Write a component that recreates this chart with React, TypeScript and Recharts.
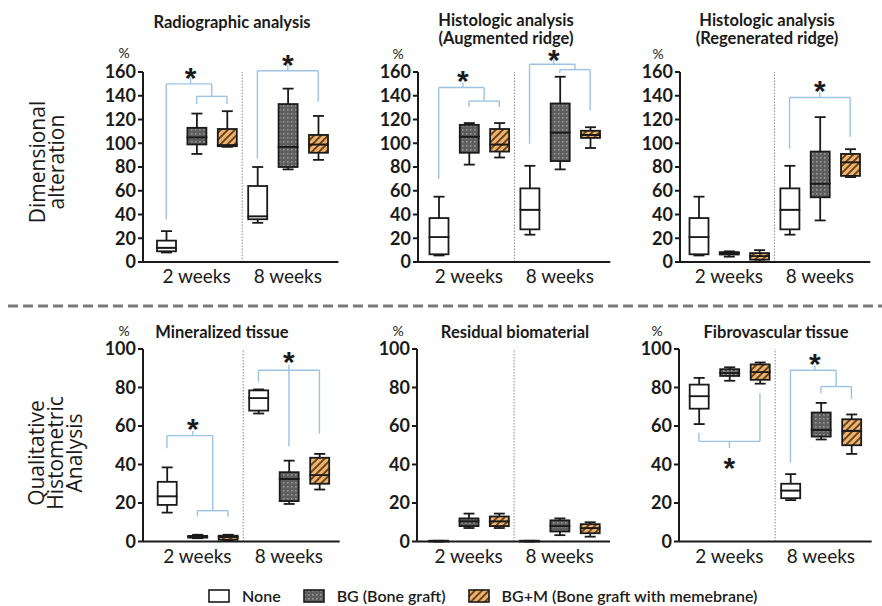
import React from 'react';
import { ComposedChart, Bar, XAxis, YAxis, ReferenceLine, ReferenceDot } from 'recharts';

const groups = ['None', 'BG', 'BGM'];
const weekLabels = ['2 weeks', '8 weeks'];
const ticks160 = [0, 20, 40, 60, 80, 100, 120, 140, 160];
const ticks100 = [0, 20, 40, 60, 80, 100];

// [min, q1, median, q3, max] for None, BG, BG+M at 2 weeks, then the same at 8 weeks
const radioBoxes = [
  [8, 9, 12, 18, 26], [91, 99, 105, 113, 125], [97, 97.5, 98.5, 112, 127],
  [33, 36, 38.5, 64, 80], [78, 80, 97, 133, 146], [86, 92, 99, 107, 123],
];
const augBoxes = [
  [5.5, 6.5, 21, 37, 55], [82, 92, 105.5, 115.5, 117], [88, 93, 99, 112, 117],
  [23, 27.5, 44, 62, 81], [78, 85, 109, 133.5, 156], [96, 104.5, 107, 110.5, 113.5],
];
const regenBoxes = [
  [5.5, 6.5, 21, 37, 55], [4.5, 6.3, 7.5, 8.3, 9], [0.5, 2, 5, 7.5, 10],
  [23, 27.5, 44, 62, 81], [35, 54.5, 66, 93, 122], [71.5, 72.5, 84, 91, 95],
];
const mineralBoxes = [
  [15, 19, 23.5, 31, 38.5], [1.7, 2, 2.4, 2.9, 3.5], [0.5, 0.9, 2.3, 3, 3.5],
  [66.5, 68, 74.5, 78.5, 79], [19.5, 21, 32.5, 36, 42], [27, 30, 34.5, 43.5, 45.5],
];
const residualBoxes = [
  [0, 0, 0.2, 0.4, 0.4], [7, 8, 10.5, 12, 14.5], [7, 8, 10.5, 13, 14.5],
  [0, 0, 0.2, 0.4, 0.4], [3.3, 5.2, 8, 11, 12], [2.5, 4.3, 7, 9, 10],
];
const fibroBoxes = [
  [61, 69, 75.5, 81.5, 85], [83.5, 86, 87.5, 89.5, 90.5], [82, 84, 88, 92, 93],
  [21.5, 22.5, 26.5, 30, 35], [53, 54.5, 58, 67, 72], [45.5, 50, 57.5, 63.5, 66],
];

// significance brackets as [x1, y1, x2, y2]; x counts box slots (box i sits at i + 0.5)
const radioLinks = [
  [0.5, 36, 0.5, 150], [0.5, 150, 2, 150], [1.3, 150, 1.3, 155], [2, 150, 2, 139.5],
  [1.5, 139.5, 2.5, 139.5], [1.5, 139.5, 1.5, 133], [2.5, 139.5, 2.5, 133],
  [3.5, 87, 3.5, 161], [3.5, 161, 5.5, 161], [4.5, 161, 4.5, 166], [5.5, 161, 5.5, 135],
];
const radioStars = [[1.3, 161], [4.5, 172]];

const augLinks = [
  [0.5, 70, 0.5, 147], [0.5, 147, 2, 147], [1.3, 147, 1.3, 151], [2, 147, 2, 135.5],
  [1.5, 135.5, 2.5, 135.5], [1.5, 135.5, 1.5, 130.5], [2.5, 135.5, 2.5, 130.5],
  [3.5, 99.5, 3.5, 166.5], [3.5, 166.5, 5, 166.5], [4.3, 166.5, 4.3, 170.5], [5, 166.5, 5, 162],
  [4.5, 162, 5.5, 162], [4.5, 162, 4.5, 159], [5.5, 162, 5.5, 127.5],
];
const augStars = [[1.3, 158], [4.3, 176]];

const regenLinks = [
  [3.5, 95.5, 3.5, 138.5], [3.5, 138.5, 5.5, 138.5], [4.5, 138.5, 4.5, 143], [5.5, 138.5, 5.5, 105.5],
];
const regenStars = [[4.5, 150]];

const mineralLinks = [
  [0.5, 48.5, 0.5, 55], [0.5, 55, 2, 55], [1.35, 55, 1.35, 57.5], [2, 55, 2, 16],
  [1.5, 16, 2.5, 16], [1.5, 16, 1.5, 13], [2.5, 16, 2.5, 13],
  [3.5, 83, 3.5, 89], [3.5, 89, 5.5, 89], [4.5, 92, 4.5, 49.5], [5.5, 89, 5.5, 56],
];
const mineralStars = [[1.35, 62], [4.5, 97]];

const fibroLinks = [
  [0.5, 56.5, 0.5, 52], [0.5, 52, 2.5, 52], [2.5, 52, 2.5, 77], [1.5, 52, 1.5, 48.5],
  [3.5, 41, 3.5, 89], [3.5, 89, 5, 89], [4.3, 89, 4.3, 91.5], [5, 89, 5, 80.5],
  [4.5, 80.5, 5.5, 80.5], [4.5, 80.5, 4.5, 77], [5.5, 80.5, 5.5, 74],
];
const fibroStars = [[1.5, 42], [4.3, 96]];

const ink = '#1a1a1a';
const linkBlue = '#9cc3e4';
const boxFill: Record<string, string> = { None: '#ffffff', BG: 'url(#dotFill)', BGM: 'url(#hatchFill)' };

const toRows = (boxes: number[][]) =>
  boxes.map(([min, q1, med, q3, max], i) => ({
    key: `b${i}`,
    slot: i,
    kind: groups[i % 3],
    lo: min,
    w1: q1 - min,
    b1: med - q1,
    b2: q3 - med,
    w2: max - q3,
  }));

const emptyShape = () => <g />;

const lowWhisker = (p: any) => {
  const cx = p.x + p.width / 2;
  const yb = p.y + p.height;
  return (
    <g>
      <line x1={cx} x2={cx} y1={p.y} y2={yb} stroke={ink} strokeWidth={1.8} />
      <line x1={cx - 5.5} x2={cx + 5.5} y1={yb} y2={yb} stroke={ink} strokeWidth={1.8} />
    </g>
  );
};

const highWhisker = (p: any) => {
  const cx = p.x + p.width / 2;
  return (
    <g>
      <line x1={cx} x2={cx} y1={p.y} y2={p.y + p.height} stroke={ink} strokeWidth={1.8} />
      <line x1={cx - 5.5} x2={cx + 5.5} y1={p.y} y2={p.y} stroke={ink} strokeWidth={1.8} />
    </g>
  );
};

const boxPart = (p: any) => (
  <rect
    x={p.x}
    y={p.y}
    width={p.width}
    height={Math.max(p.height, 0.01)}
    fill={boxFill[p.payload.kind]}
    stroke={ink}
    strokeWidth={1.8}
  />
);

const star = (p: any) => (
  <text x={p.cx} y={p.cy + 17} textAnchor="middle" fontSize={30} fontWeight={700} fontFamily="Liberation Sans" fill={ink}>
    *
  </text>
);

interface PanelProps {
  boxes: number[][];
  links?: number[][];
  stars?: number[][];
  yTicks: number[];
  axisX: number;
  plotTop: number;
  plotH: number;
  padL: number;
  band: number;
}

function Panel({ boxes, links = [], stars = [], yTicks, axisX, plotTop, plotH, padL, band }: PanelProps) {
  const rows = toRows(boxes);
  const plotW = padL + band * 6 + 5;
  const pad = { left: padL, right: 5 };
  const yMax = yTicks[yTicks.length - 1];
  return (
    <div style={{ position: 'absolute', left: axisX - 45, top: plotTop - 40 }}>
      <ComposedChart
        width={45 + plotW + 10}
        height={40 + plotH + 30}
        data={rows}
        barSize={19}
        margin={{ top: 40, right: 10, bottom: 0, left: 0 }}
      >
        <XAxis xAxisId="cat" dataKey="key" hide orientation="top" height={0} padding={pad} />
        <XAxis
          xAxisId="pos"
          dataKey="slot"
          type="number"
          domain={[0, 6]}
          allowDataOverflow
          ticks={[1.5, 4.5]}
          tickFormatter={(v: number) => weekLabels[v < 3 ? 0 : 1]}
          padding={pad}
          height={30}
          tickLine={false}
          axisLine={{ stroke: ink, strokeWidth: 2 }}
          tick={{ fill: ink, fontSize: 19, fontFamily: 'Lato' }}
        />
        <YAxis
          domain={[0, yMax]}
          ticks={yTicks}
          interval={0}
          width={45}
          tickSize={5}
          tickMargin={2}
          axisLine={{ stroke: ink, strokeWidth: 2 }}
          tickLine={{ stroke: ink, strokeWidth: 2 }}
          tick={{ fill: ink, fontSize: 18, fontWeight: 700, fontFamily: 'Lato' }}
        />
        <ReferenceLine xAxisId="pos" x={3} stroke="#8a8a8a" strokeDasharray="1.5 1.5" strokeWidth={1} />
        <Bar xAxisId="cat" dataKey="lo" stackId="box" shape={emptyShape} isAnimationActive={false} />
        <Bar xAxisId="cat" dataKey="w1" stackId="box" shape={lowWhisker} isAnimationActive={false} />
        <Bar xAxisId="cat" dataKey="b1" stackId="box" shape={boxPart} isAnimationActive={false} />
        <Bar xAxisId="cat" dataKey="b2" stackId="box" shape={boxPart} isAnimationActive={false} />
        <Bar xAxisId="cat" dataKey="w2" stackId="box" shape={highWhisker} isAnimationActive={false} />
        {links.map(([x1, y1, x2, y2], i) => (
          <ReferenceLine
            key={`l${i}`}
            xAxisId="pos"
            segment={[{ x: x1, y: y1 }, { x: x2, y: y2 }]}
            stroke={linkBlue}
            strokeWidth={1.4}
            ifOverflow="visible"
          />
        ))}
        {stars.map(([x, y], i) => (
          <ReferenceDot key={`s${i}`} xAxisId="pos" x={x} y={y} r={0} ifOverflow="visible" shape={star} />
        ))}
      </ComposedChart>
    </div>
  );
}

const textAt = (x: number, y: number, extra: React.CSSProperties = {}): React.CSSProperties => ({
  position: 'absolute',
  left: x,
  top: y,
  transform: 'translate(-50%, -50%)',
  whiteSpace: 'nowrap',
  textAlign: 'center',
  ...extra,
});

const titleStyle: React.CSSProperties = { fontWeight: 700, fontSize: 16.5, lineHeight: '18px', color: ink };
const pctStyle: React.CSSProperties = { fontSize: 14, lineHeight: '12px', color: ink };
const sideStyle: React.CSSProperties = { fontFamily: 'Open Sans', fontSize: 21, lineHeight: '19px', color: ink };

const Swatch = ({ fill }: { fill: string }) => (
  <svg width={22} height={14} style={{ display: 'block' }}>
    <rect x={1} y={1} width={20} height={12} fill={fill} stroke={ink} strokeWidth={1.6} />
  </svg>
);

export default function App() {
  return (
    <div style={{ position: 'absolute', left: 0, top: 0, width: 882, height: 606, background: '#fff', fontFamily: 'Lato', overflow: 'hidden' }}>
      <svg width={0} height={0} style={{ position: 'absolute' }}>
        <defs>
          <pattern id="dotFill" width={4} height={4} patternUnits="userSpaceOnUse">
            <rect width={4} height={4} fill="#5e5e5e" />
            <rect x={1.2} y={1.2} width={1.3} height={1.3} fill="#b4b4b4" />
          </pattern>
          <pattern id="hatchFill" width={5} height={5} patternUnits="userSpaceOnUse" patternTransform="rotate(45)">
            <rect width={5} height={5} fill="#f2b46c" />
            <rect width={2} height={5} fill="#6a4622" />
          </pattern>
        </defs>
      </svg>

      <div style={textAt(232, 22, titleStyle)}>Radiographic analysis</div>
      <div style={textAt(506, 29, titleStyle)}>Histologic analysis<br />(Augmented ridge)</div>
      <div style={textAt(767, 29, titleStyle)}>Histologic analysis<br />(Regenerated ridge)</div>
      <div style={textAt(222, 332, titleStyle)}>Mineralized tissue</div>
      <div style={textAt(515, 332, titleStyle)}>Residual biomaterial</div>
      <div style={textAt(776, 332, titleStyle)}>Fibrovascular tissue</div>

      <div style={textAt(124, 53, pctStyle)}>%</div>
      <div style={textAt(398, 54, pctStyle)}>%</div>
      <div style={textAt(658, 54, pctStyle)}>%</div>
      <div style={textAt(124, 331, pctStyle)}>%</div>
      <div style={textAt(398, 331, pctStyle)}>%</div>
      <div style={textAt(657, 331, pctStyle)}>%</div>

      <div style={textAt(47, 162, { ...sideStyle, transform: 'translate(-50%, -50%) rotate(-90deg)' })}>
        Dimensional<br />alteration
      </div>
      <div style={textAt(55, 453, { ...sideStyle, transform: 'translate(-50%, -50%) rotate(-90deg)' })}>
        Qualitative<br />Histometric<br />Analysis
      </div>

      <Panel boxes={radioBoxes} links={radioLinks} stars={radioStars} yTicks={ticks160} axisX={143} plotTop={72} plotH={190} padL={8} band={30.4} />
      <Panel boxes={augBoxes} links={augLinks} stars={augStars} yTicks={ticks160} axisX={418} plotTop={72} plotH={190} padL={5.5} band={30.3} />
      <Panel boxes={regenBoxes} links={regenLinks} stars={regenStars} yTicks={ticks160} axisX={680} plotTop={72} plotH={190} padL={3.5} band={30.3} />
      <Panel boxes={mineralBoxes} links={mineralLinks} stars={mineralStars} yTicks={ticks100} axisX={143} plotTop={349} plotH={192.5} padL={8.7} band={30.5} />
      <Panel boxes={residualBoxes} yTicks={ticks100} axisX={417} plotTop={349} plotH={192.5} padL={6.2} band={30.3} />
      <Panel boxes={fibroBoxes} links={fibroLinks} stars={fibroStars} yTicks={ticks100} axisX={679} plotTop={349} plotH={192.5} padL={4.7} band={30.5} />

      <svg width={882} height={10} style={{ position: 'absolute', left: 0, top: 301 }}>
        <line x1={8} x2={882} y1={5} y2={5} stroke="#7a7a7a" strokeWidth={3} strokeDasharray="10 5" />
      </svg>

      <div style={{ position: 'absolute', left: 208, top: 586, display: 'flex', alignItems: 'center', fontSize: 16, fontWeight: 600, color: ink, whiteSpace: 'nowrap' }}>
        <Swatch fill={boxFill.None} />
        <span style={{ marginLeft: 12, marginRight: 22 }}>None</span>
        <Swatch fill={boxFill.BG} />
        <span style={{ marginLeft: 12, marginRight: 22 }}>BG (Bone graft)</span>
        <Swatch fill={boxFill.BGM} />
        <span style={{ marginLeft: 12 }}>BG+M (Bone graft with memebrane)</span>
      </div>
    </div>
  );
}
